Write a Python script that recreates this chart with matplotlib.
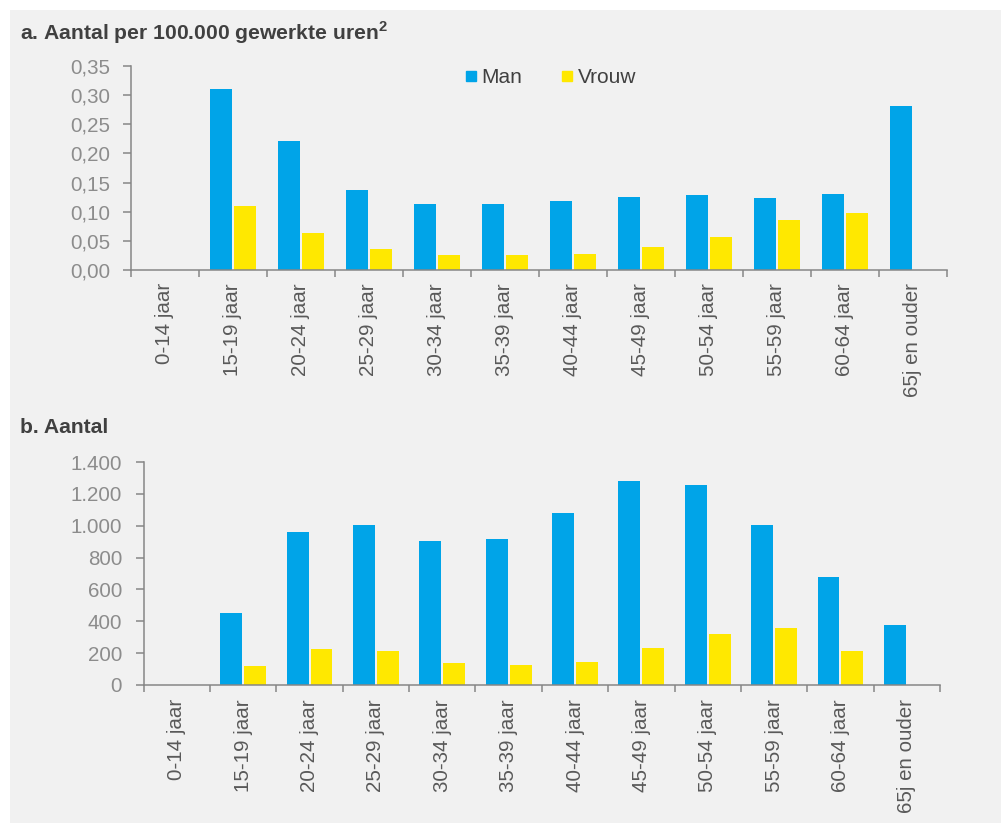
import matplotlib.pyplot as plt
from matplotlib.lines import Line2D
from matplotlib.ticker import FuncFormatter, FixedLocator
import numpy as np

# Leeftijdsklassen
categorieen = ['0-14 jaar', '15-19 jaar', '20-24 jaar', '25-29 jaar', '30-34 jaar',
               '35-39 jaar', '40-44 jaar', '45-49 jaar', '50-54 jaar', '55-59 jaar',
               '60-64 jaar', '65j en ouder']

# a. Aantal per 100.000 gewerkte uren
per_uur_man = [0, 0.311, 0.222, 0.137, 0.113, 0.114, 0.118, 0.126, 0.129, 0.123, 0.131, 0.281]
per_uur_vrouw = [0, 0.109, 0.064, 0.036, 0.026, 0.025, 0.027, 0.039, 0.056, 0.085, 0.097, 0]

# b. Aantal
aantal_man = [0, 450, 958, 1006, 905, 917, 1078, 1283, 1258, 1003, 676, 374]
aantal_vrouw = [0, 120, 224, 212, 140, 124, 147, 230, 318, 357, 213, 0]

blauw = '#00a4e8'
geel = '#ffe800'
achtergrond = '#f1f1f1'
as_kleur = '#868686'

plt.rcParams['font.family'] = ['Liberation Sans', 'DejaVu Sans']
plt.rcParams['mathtext.fontset'] = 'custom'
plt.rcParams['mathtext.bf'] = 'Liberation Sans:bold'
plt.rcParams['mathtext.rm'] = 'Liberation Sans'

W, H = 1001, 823
fig = plt.figure(figsize=(W / 100, H / 100), dpi=100)
fig.patch.set_facecolor('white')

# grijze achtergrond achter alles
fig.patches.append(plt.Rectangle((10 / W, 0), 1 - 10 / W, 1 - 10 / H, transform=fig.transFigure,
                                 facecolor=achtergrond, edgecolor='none', zorder=-10))

def maak_paneel(rect, man, vrouw, ymax, stap, fmt, ypad, xpad):
    ax = fig.add_axes(rect)
    ax.set_facecolor('none')
    x = np.arange(len(categorieen))
    ax.bar(x - 0.18, man, width=0.33, color=blauw, zorder=2)
    ax.bar(x + 0.18, vrouw, width=0.33, color=geel, zorder=2)
    ax.set_xlim(-0.5, len(categorieen) - 0.5)
    ax.set_ylim(0, ymax)
    ax.set_yticks(np.arange(0, ymax + stap / 2, stap))
    ax.yaxis.set_major_formatter(FuncFormatter(fmt))
    # tickmarks tussen de categorieen, labels in het midden
    ax.xaxis.set_major_locator(FixedLocator(np.arange(-0.5, len(categorieen), 1.0)))
    ax.xaxis.set_major_formatter(FuncFormatter(lambda v, p: ''))
    ax.xaxis.set_minor_locator(FixedLocator(x))
    ax.set_xticklabels(categorieen, minor=True, rotation=90, va='top', ha='center')
    ax.tick_params(axis='x', which='minor', length=0, pad=xpad, labelsize=14.8, labelcolor='#595959')
    ax.tick_params(axis='x', which='major', length=5, width=1.1, color=as_kleur)
    ax.tick_params(axis='y', length=6, width=1.1, color=as_kleur, pad=ypad,
                   labelsize=14.8, labelcolor='#8c8c8c')
    for s in ['top', 'right']:
        ax.spines[s].set_visible(False)
    for s in ['left', 'bottom']:
        ax.spines[s].set_color(as_kleur)
        ax.spines[s].set_linewidth(1.1)
    return ax

ax1 = maak_paneel([131 / W, 1 - 270 / H, 816 / W, 204 / H], per_uur_man, per_uur_vrouw,
                  0.35, 0.05, lambda v, p: f'{v:.2f}'.replace('.', ','), 9, 9.5)
ax2 = maak_paneel([143.7 / W, 1 - 685 / H, 796.3 / W, 223 / H], aantal_man, aantal_vrouw,
                  1400, 200, lambda v, p: f'{v:,.0f}'.replace(',', '.'), 9.5, 10)

# titels van de panelen
fig.text(20 / W, 1 - 39.5 / H, r'a. Aantal per 100.000 gewerkte uren$^{\mathbf{2}}$',
         fontsize=15.2, fontweight='bold', color='#404040', va='baseline', ha='left')
fig.text(20 / W, 1 - 433 / H, 'b. Aantal', fontsize=15.2, fontweight='bold',
         color='#404040', va='baseline', ha='left')

# legenda
handles = [Line2D([], [], marker='s', linestyle='none', markersize=6.5, color=blauw),
           Line2D([], [], marker='s', linestyle='none', markersize=6.5, color=geel)]
fig.legend(handles, ['Man', 'Vrouw'], loc='center left', bbox_to_anchor=(466 / W, 1 - 77.7 / H),
           ncol=2, frameon=False, fontsize=15, labelcolor='#404040', handlelength=0.45,
           handletextpad=0.3, columnspacing=1.9, borderpad=0, borderaxespad=0)

fig.savefig('out.png', dpi=100, facecolor=fig.get_facecolor())
